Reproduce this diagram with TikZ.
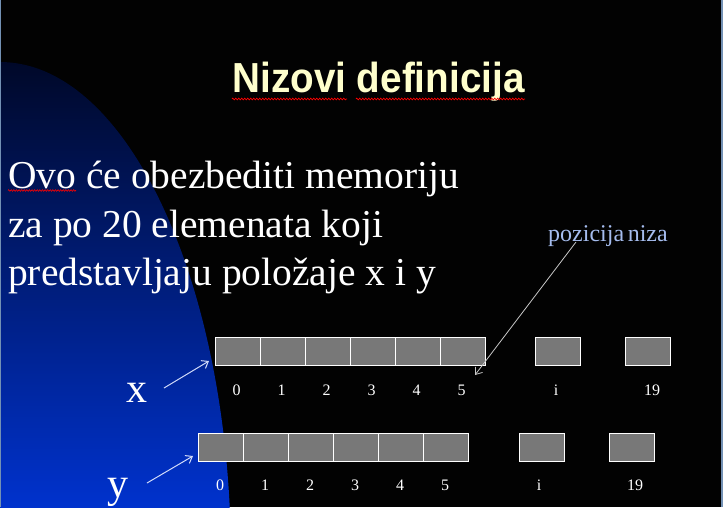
\documentclass[tikz,border=0pt]{standalone}
\usepackage{fontspec}
\usepackage{graphicx}
\setmainfont{Liberation Serif}
\newfontfamily\titlefont{Liberation Sans}
\usetikzlibrary{arrows.meta,decorations.pathmorphing}
\definecolor{bgblack}{RGB}{2,2,2}
\definecolor{navytop}{RGB}{0,8,40}
\definecolor{navymid}{RGB}{0,33,145}
\definecolor{navybot}{RGB}{0,50,205}
\definecolor{titleyellow}{RGB}{255,255,204}
\definecolor{cellgray}{RGB}{120,120,120}
\definecolor{framegray}{RGB}{115,145,180}
\definecolor{notecolor}{RGB}{165,188,238}
\definecolor{arrowlight}{RGB}{210,220,250}
\definecolor{arrowgray}{RGB}{200,200,200}
\tikzset{
  cellbox/.style={draw=white, fill=cellgray, line width=1pt, minimum width=45pt, minimum height=28pt, inner sep=0pt},
  idxlabel/.style={text=white, font=\fontsize{16}{16}\selectfont, anchor=base, inner sep=0pt},
  bodyline/.style={text=white, font=\fontsize{39.5}{48}\selectfont, anchor=base west, inner sep=0pt},
  biglabel/.style={text=white, font=\fontsize{42}{42}\selectfont, anchor=base west, inner sep=0pt},
  pointer/.style={draw=arrowlight, line width=1pt, -{Straight Barb[length=6pt,width=9pt]}},
  notepointer/.style={draw=arrowgray, line width=0.8pt, -{Straight Barb[length=6pt,width=9pt]}},
  spellwave/.style={draw=red, line width=0.7pt, decorate, decoration={zigzag, amplitude=0.9pt, segment length=3pt}}
}
\begin{document}
\begin{tikzpicture}[x=1pt,y=-1pt]
\useasboundingbox (0,0) rectangle (723,507);
\fill[bgblack] (0,0) rectangle (723,507);
% blue curved background
\begin{scope}
  \clip (0,560) ellipse [x radius=231, y radius=498];
  \shade[top color=navytop, middle color=navymid, bottom color=navybot] (0,60) rectangle (240,507);
\end{scope}
% frame edges
\draw[framegray, line width=1pt] (0.5,0) -- (0.5,507);
\draw[framegray, line width=2pt] (722,0) -- (722,507);
% title
\node[text=titleyellow, anchor=base, inner sep=0pt, font=\titlefont\bfseries\fontsize{42}{42}\selectfont] (title) at (378.5,92.3) {\scalebox{0.92}[1]{Nizovi definicija}};
\draw[spellwave] (232,99) -- (347,99);
\draw[spellwave] (356,99) -- (525,99);
% body text
\node[bodyline] (l1) at (8,188) {Ovo će obezbediti memoriju};
\node[bodyline] (l2) at (8,237) {za po 20 elemenata koji};
\node[bodyline] (l3) at (8,285) {predstavljaju položaje x i y};
\draw[spellwave, line width=0.6pt, decoration={amplitude=0.8pt, segment length=2.6pt}] (8,190.5) -- (76,190.5);
% array x
\foreach \k in {0,...,5} {
  \node[cellbox] (x\k) at ({237.5+45*\k},351.3) {};
  \node[idxlabel] (xn\k) at ({236.7+45*\k},395) {\k};
}
\node[cellbox] (xi) at (558,351.3) {};
\node[cellbox] (x19) at (647.8,351.3) {};
\node[idxlabel] (xni) at (556,395) {i};
\node[idxlabel] (xn19) at (652,395) {19};
% array y
\foreach \k in {0,...,5} {
  \node[cellbox] (y\k) at ({220.8+45*\k},447.2) {};
  \node[idxlabel] (yn\k) at ({220+45*\k},490) {\k};
}
\node[cellbox] (yi) at (541.8,447.2) {};
\node[cellbox] (y19) at (631.8,447.2) {};
\node[idxlabel] (yni) at (539,490) {i};
\node[idxlabel] (yn19) at (635,490) {19};
% labels x, y
\node[biglabel] (xlab) at (126,402) {x};
\node[biglabel] (ylab) at (107,497) {y};
\coordinate (xs) at (164,388);
\coordinate (xe) at (209,361);
\coordinate (ys) at (147,483);
\coordinate (ye) at (193,456);
\draw[pointer] (xs) -- (xe);
\draw[pointer] (ys) -- (ye);
% note
\node[text=notecolor, font=\fontsize{24}{24}\selectfont, anchor=base west, inner sep=0pt] (note) at (548,241) {pozicija\hspace{0.15em}niza};
\coordinate (ns) at (576,242);
\coordinate (ne) at (475,375);
\draw[notepointer] (ns) -- (ne);
\end{tikzpicture}
\end{document}
